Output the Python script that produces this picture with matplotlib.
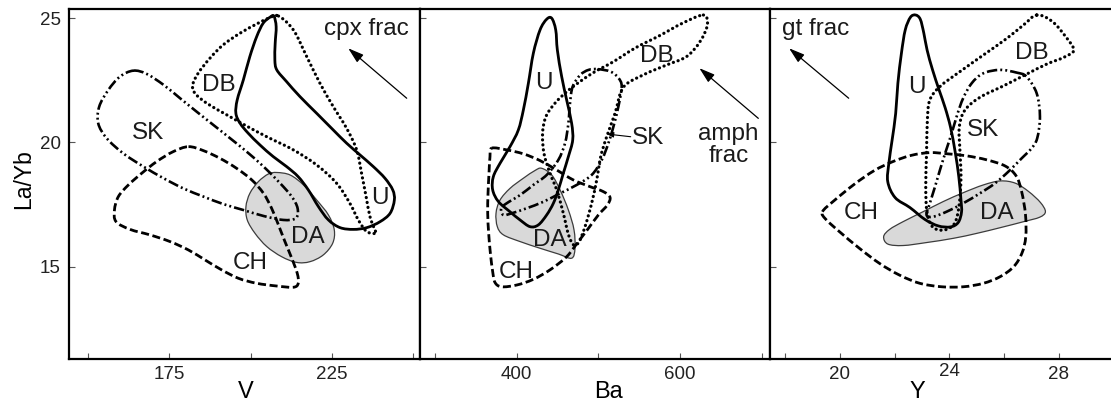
import numpy as np
import matplotlib
matplotlib.use("Agg")
import matplotlib.pyplot as plt
from matplotlib.path import Path
from matplotlib.patches import PathPatch
from matplotlib.transforms import blended_transform_factory

plt.rcParams["font.family"] = ["Liberation Sans", "DejaVu Sans"]
plt.rcParams["lines.scale_dashes"] = False

# ---------------------------------------------------------------- data
# Field outlines (x, La/Yb) for each suite: U, DB, SK, CH, DA

# --- V panel
V_U = [(207.2, 25.09), (206.0, 25.04), (203.9, 24.80), (201.9, 24.26), (199.8, 23.46),
       (197.8, 22.52), (195.9, 21.71), (195.5, 21.17), (196.8, 20.77), (199.3, 20.37),
       (202.9, 19.90), (207.0, 19.43), (211.1, 19.03), (214.7, 18.62), (217.8, 18.09),
       (220.9, 17.42), (224.0, 16.88), (227.6, 16.57), (231.7, 16.50), (235.8, 16.57),
       (239.9, 16.81), (243.0, 17.15), (244.3, 17.68), (243.8, 18.09), (241.4, 18.56),
       (237.8, 19.03), (233.7, 19.50), (229.6, 19.97), (225.5, 20.50), (220.4, 21.17),
       (215.2, 21.85), (211.1, 22.45), (208.1, 22.92), (207.5, 23.32), (207.6, 23.99),
       (207.9, 24.66)]
V_DB = [(208.6, 25.09), (213.2, 24.53), (217.3, 23.46), (221.4, 22.38), (225.5, 21.44),
        (229.6, 20.57), (232.7, 19.70), (234.2, 18.76), (235.6, 17.82), (236.8, 17.01),
        (238.3, 16.48), (238.7, 16.34), (235.8, 16.41), (233.2, 16.88), (230.6, 17.55),
        (226.5, 18.36), (220.4, 19.09), (213.2, 19.70), (205.0, 20.23), (198.8, 20.66),
        (192.7, 21.11), (186.5, 21.58), (182.9, 21.98), (182.2, 22.32), (183.9, 22.79),
        (187.5, 23.39), (191.6, 23.93), (196.8, 24.40), (201.9, 24.77), (205.5, 25.00)]
V_SK = [(163.9, 22.89), (168.0, 22.76), (173.2, 22.32), (178.3, 21.78), (183.4, 21.24),
        (188.6, 20.70), (193.7, 20.17), (198.8, 19.63), (204.0, 19.03), (209.1, 18.36),
        (212.7, 17.82), (214.5, 17.35), (214.0, 16.95), (210.1, 16.88), (204.0, 17.04),
        (197.8, 17.28), (191.6, 17.52), (185.5, 17.82), (179.3, 18.15), (173.2, 18.56),
        (167.0, 19.03), (160.8, 19.56), (155.7, 20.17), (153.1, 20.77), (153.4, 21.44),
        (156.2, 22.11), (159.8, 22.65)]
V_CH = [(180.9, 19.83), (185.5, 19.67), (190.6, 19.36), (195.7, 18.96), (200.4, 18.49),
        (204.0, 17.95), (206.5, 17.35), (208.6, 16.68), (210.6, 16.01), (212.7, 15.34),
        (214.4, 14.73), (214.7, 14.33), (213.2, 14.17), (208.1, 14.22), (201.9, 14.33),
        (196.3, 14.53), (191.1, 14.87), (186.0, 15.27), (180.9, 15.67), (175.2, 16.01),
        (169.0, 16.28), (162.9, 16.50), (158.6, 16.81), (158.1, 17.28), (159.3, 17.82),
        (162.4, 18.29), (166.5, 18.76), (171.1, 19.23), (176.2, 19.63)]
V_DA = [(208.1, 18.79), (212.2, 18.69), (216.3, 18.29), (220.4, 17.68), (224.0, 17.08),
        (225.8, 16.48), (225.3, 15.94), (222.4, 15.47), (218.3, 15.20), (214.2, 15.17),
        (209.6, 15.40), (205.0, 15.81), (201.4, 16.34), (199.0, 16.88), (198.6, 17.42),
        (199.8, 17.95), (202.4, 18.42), (205.5, 18.73)]

# --- Ba panel
BA_U = [(442.9, 25.00), (447.8, 24.53), (449.8, 23.72), (455.1, 22.65), (461.2, 21.71),
        (467.3, 20.77), (468.6, 20.10), (463.3, 19.43), (457.1, 18.76), (451.0, 18.09),
        (444.9, 17.55), (436.7, 17.08), (426.5, 16.68), (416.3, 16.61), (404.1, 16.88),
        (391.8, 17.21), (377.6, 17.62), (370.6, 18.09), (371.4, 18.62), (379.6, 19.16),
        (391.8, 19.83), (402.0, 20.50), (408.2, 21.31), (414.3, 22.38), (420.4, 23.59),
        (428.6, 24.53), (436.7, 24.96)]
BA_DB = [(628.6, 25.13), (633.5, 24.73), (624.5, 24.06), (608.2, 23.46), (583.7, 23.12),
         (555.1, 22.72), (530.6, 22.22), (520.4, 21.17), (510.2, 20.23), (502.9, 19.43),
         (498.0, 18.49), (491.8, 17.55), (483.7, 16.61), (476.0, 15.98), (469.5, 15.88),
         (463.3, 16.30), (457.1, 17.15), (449.0, 18.09), (440.8, 18.76), (433.4, 19.56),
         (431.7, 20.37), (435.8, 21.04), (446.9, 21.58), (461.2, 22.04), (477.5, 22.45),
         (495.9, 22.85), (518.4, 23.25), (545.0, 23.80), (575.0, 24.30), (603.0, 24.80)]
BA_SK = [(499.6, 22.95), (515.0, 22.85), (524.5, 22.60), (528.6, 22.25), (524.5, 21.44),
         (518.4, 20.63), (512.3, 19.97), (504.1, 19.29), (491.8, 18.69), (473.5, 18.29),
         (453.1, 17.95), (432.6, 17.61), (412.2, 17.35), (394.1, 17.15), (383.6, 17.08),
         (381.0, 17.35), (387.7, 17.55), (404.1, 17.88), (420.4, 18.29), (436.7, 18.69),
         (450.9, 19.29), (459.2, 19.97), (463.3, 20.77), (465.3, 21.58), (468.6, 22.25),
         (478.0, 22.72), (488.0, 22.92)]
BA_CH = [(369.4, 19.77), (387.8, 19.70), (408.2, 19.54), (428.6, 19.27), (449.0, 18.89),
         (469.4, 18.49), (489.8, 18.22), (506.1, 18.02), (514.3, 17.79), (511.0, 17.48),
         (500.0, 17.08), (487.8, 16.54), (475.5, 16.01), (461.2, 15.40), (440.8, 14.87),
         (420.4, 14.49), (400.0, 14.26), (381.6, 14.19), (373.5, 14.36), (370.6, 14.80),
         (367.8, 15.54), (365.7, 16.34), (364.5, 17.15), (364.9, 17.95), (366.1, 18.76),
         (367.3, 19.43)]
BA_DA = [(430.6, 18.96), (442.9, 18.69), (453.1, 18.09), (463.3, 17.28), (470.2, 16.48),
         (471.4, 15.74), (467.3, 15.34), (451.0, 15.51), (428.6, 15.74), (404.1, 16.01),
         (383.7, 16.28), (376.3, 16.61), (374.7, 17.15), (379.6, 17.68), (391.8, 18.15),
         (408.2, 18.56), (422.4, 18.87)]

# --- Y panel
Y_U = [(22.77, 25.13), (22.94, 24.96), (23.07, 24.40), (23.19, 23.72), (23.39, 22.92),
       (23.63, 22.11), (23.85, 21.40), (24.05, 20.60), (24.22, 19.60), (24.35, 18.62),
       (24.43, 17.68), (24.45, 17.20), (24.33, 16.78), (24.05, 16.60), (23.60, 16.64),
       (23.11, 16.90), (22.56, 17.38), (22.02, 17.78), (21.75, 18.42), (21.79, 19.16),
       (21.91, 20.10), (22.04, 21.17), (22.12, 22.38), (22.25, 23.59), (22.39, 24.53),
       (22.58, 25.04)]
Y_DB = [(27.21, 25.13), (27.77, 24.87), (28.26, 24.26), (28.56, 23.72), (28.20, 23.43),
        (27.58, 23.16), (26.85, 22.76), (25.99, 22.28), (25.13, 21.82), (24.58, 21.31),
        (24.37, 20.64), (24.39, 19.70), (24.43, 18.62), (24.37, 17.55), (24.21, 16.77),
        (23.84, 16.48), (23.41, 16.58), (23.19, 17.15), (23.14, 18.22), (23.17, 19.56),
        (23.20, 20.91), (23.29, 21.71), (23.66, 22.25), (24.39, 22.85), (25.25, 23.52),
        (26.11, 24.19), (26.72, 24.73)]
Y_SK = [(26.47, 22.81), (26.83, 22.65), (27.20, 21.98), (27.32, 21.04), (27.22, 20.17),
        (27.01, 19.76), (26.65, 19.36), (26.16, 18.82), (25.67, 18.35), (25.12, 17.95),
        (24.51, 17.55), (23.90, 17.21), (23.41, 17.01), (23.17, 17.08), (23.29, 17.55),
        (23.48, 18.22), (23.66, 18.89), (23.87, 19.63), (24.09, 20.37), (24.29, 21.11),
        (24.51, 21.78), (24.82, 22.38), (25.24, 22.78), (25.86, 22.92)]
Y_CH = [(19.36, 17.21), (19.79, 17.66), (20.53, 18.32), (21.26, 18.87), (21.94, 19.23),
        (22.61, 19.48), (23.29, 19.59), (23.96, 19.54), (24.64, 19.46), (25.37, 19.30),
        (26.05, 19.05), (26.45, 18.65), (26.65, 18.02), (26.79, 17.10), (26.80, 16.20),
        (26.66, 15.54), (26.36, 15.00), (25.87, 14.60), (25.25, 14.33), (24.52, 14.19),
        (23.72, 14.19), (22.92, 14.33), (22.18, 14.66), (21.45, 15.13), (20.71, 15.74),
        (19.98, 16.41), (19.48, 16.91)]
Y_DA = [(21.60, 16.21), (21.82, 16.50), (22.31, 16.81), (23.04, 17.21), (23.78, 17.62),
        (24.52, 17.98), (25.25, 18.29), (25.87, 18.45), (26.42, 18.36), (26.91, 18.02),
        (27.34, 17.58), (27.52, 17.21), (27.31, 16.99), (26.72, 16.81), (25.87, 16.57),
        (25.01, 16.34), (24.15, 16.14), (23.17, 15.97), (22.31, 15.85), (21.75, 15.91)]

# field labels (x, y)
V_LABELS = {"DB": (190.1, 22.32), "SK": (168.5, 20.37), "U": (239.9, 17.75),
            "DA": (217.8, 16.21), "CH": (199.8, 15.16)}
BA_LABELS = {"U": (432.7, 22.38), "DB": (571.4, 23.46), "DA": (440.8, 16.07),
             "CH": (400.0, 14.80), "SK": (561.2, 20.17)}
Y_LABELS = {"U": (22.80, 22.22), "DB": (27.03, 23.59), "SK": (25.23, 20.50),
            "CH": (20.77, 17.15), "DA": (25.74, 17.15)}

# axis settings
V_LIM, BA_LIM, Y_LIM = (144.1, 252.2), (281.6, 710.2), (17.44, 30.25)
LAYB_LIM = (11.27, 25.36)
V_TICKS, V_MINOR = [175, 225], [150, 200, 250]
BA_TICKS, BA_MINOR = [400, 600], [300, 500, 700]
Y_TICKS, Y_MINOR = [20, 24, 28], [18, 22, 26, 30]
LAYB_TICKS = [15, 20, 25]

# ---------------------------------------------------------------- drawing
LINE_STYLES = {
    "U": dict(linestyle="-", linewidth=2.0),
    "DB": dict(linestyle=(0, (0.1, 3.5)), linewidth=2.3, capstyle="round"),
    "CH": dict(linestyle=(0, (5.8, 2.6)), linewidth=2.0, capstyle="butt"),
    "SK": dict(linestyle=(0, (7.5, 2.2, 1.4, 2.2, 1.4, 2.2)), linewidth=1.9,
               capstyle="butt"),
}
LABEL_SIZE = 17.5
TICK_SIZE = 13.5


def closed_curve(pts):
    """Closed Catmull-Rom curve through pts, as a cubic Bezier Path."""
    P = np.asarray(pts, float)
    n = len(P)
    verts, codes = [P[0]], [Path.MOVETO]
    for i in range(n):
        p0, p1, p2, p3 = P[i - 1], P[i], P[(i + 1) % n], P[(i + 2) % n]
        verts += [p1 + (p2 - p0) / 6.0, p2 - (p3 - p1) / 6.0, p2]
        codes += [Path.CURVE4] * 3
    verts.append(P[0])
    codes.append(Path.CLOSEPOLY)
    return Path(verts, codes)


def draw_fields(ax, fields, labels):
    ax.add_patch(PathPatch(closed_curve(fields["DA"]), facecolor="#d9d9d9",
                           edgecolor="#3c3c3c", linewidth=0.9, zorder=1))
    for key in ("CH", "SK", "DB", "U"):
        ax.add_patch(PathPatch(closed_curve(fields[key]), fill=False,
                               edgecolor="black", joinstyle="round", zorder=3,
                               **LINE_STYLES[key]))
    for name, (x, y) in labels.items():
        ax.text(x, y, name, fontsize=LABEL_SIZE, color="#1a1a1a", ha="center",
                va="center", zorder=5)


def style_axis(ax, xlim, major, minor, left_labels):
    ax.set_xlim(*xlim)
    ax.set_ylim(*LAYB_LIM)
    ax.set_xticks(major)
    ax.set_xticks(minor, minor=True)
    ax.set_yticks(LAYB_TICKS)
    for s in ax.spines.values():
        s.set_linewidth(1.6)
    ax.tick_params(which="both", direction="in", length=4, width=0.8,
                   color="#555555", labelsize=TICK_SIZE, labelcolor="#222222")
    ax.tick_params(axis="x", pad=5)
    ax.tick_params(axis="y", pad=6, labelleft=left_labels)


fig = plt.figure(figsize=(11.11, 4.04), dpi=100)
W, H = 1111.0, 404.0
bottom, height = (H - 359.3) / H, 350.0 / H
ax1 = fig.add_axes([69 / W, bottom, 351 / W, height])
ax2 = fig.add_axes([420 / W, bottom, 350 / W, height])
ax3 = fig.add_axes([770 / W, bottom, 350 / W, height])

style_axis(ax1, V_LIM, V_TICKS, V_MINOR, True)
style_axis(ax2, BA_LIM, BA_TICKS, BA_MINOR, False)
style_axis(ax3, Y_LIM, Y_TICKS, Y_MINOR, False)

draw_fields(ax1, {"U": V_U, "DB": V_DB, "SK": V_SK, "CH": V_CH, "DA": V_DA}, V_LABELS)
draw_fields(ax2, {"U": BA_U, "DB": BA_DB, "SK": BA_SK, "CH": BA_CH, "DA": BA_DA}, BA_LABELS)
draw_fields(ax3, {"U": Y_U, "DB": Y_DB, "SK": Y_SK, "CH": Y_CH, "DA": Y_DA}, Y_LABELS)

# the "24" label on the Y axis sits a little higher than its neighbours
ax3.set_xticklabels(["20", "", "28"])
ax3.text(24, -0.012, "24", transform=blended_transform_factory(ax3.transData, ax3.transAxes),
         ha="center", va="top", fontsize=TICK_SIZE, color="#222222")

# axis titles
ax1.set_ylabel("La/Yb", fontsize=16.5, va="center")
ax1.yaxis.set_label_coords(-0.13, 0.515)
for ax, name, xf in ((ax1, "V", 0.504), (ax2, "Ba", 0.54), (ax3, "Y", 0.42)):
    ax.set_xlabel(name, fontsize=17, va="center")
    ax.xaxis.set_label_coords(xf, -0.094)

# fractionation vectors
arrow = dict(arrowstyle="-|>,head_length=0.95,head_width=0.3", color="black",
             lw=0.9, mutation_scale=10, shrinkA=0, shrinkB=0)
ax1.text(235.8, 24.56, "cpx frac", fontsize=LABEL_SIZE, ha="center", va="center",
         color="#1a1a1a")
ax1.annotate("", xy=(230.1, 23.79), xytext=(248.1, 21.78), arrowprops=arrow)

ax2.text(659.2, 19.90, "amph\nfrac", fontsize=LABEL_SIZE, ha="center", va="center",
         linespacing=1.0, color="#1a1a1a")
ax2.annotate("", xy=(623.7, 22.99), xytext=(695.9, 20.97), arrowprops=arrow)
ax2.annotate("", xy=(510.2, 20.34), xytext=(539.6, 20.23),
             arrowprops=dict(arrowstyle="-|>,head_length=0.5,head_width=0.2",
                             color="black", lw=0.8, mutation_scale=8,
                             shrinkA=0, shrinkB=0))

ax3.text(17.89, 24.56, "gt frac", fontsize=LABEL_SIZE, ha="left", va="center",
         color="#1a1a1a")
ax3.annotate("", xy=(18.14, 23.79), xytext=(20.32, 21.78), arrowprops=arrow)

fig.savefig("out.png", dpi=100)
